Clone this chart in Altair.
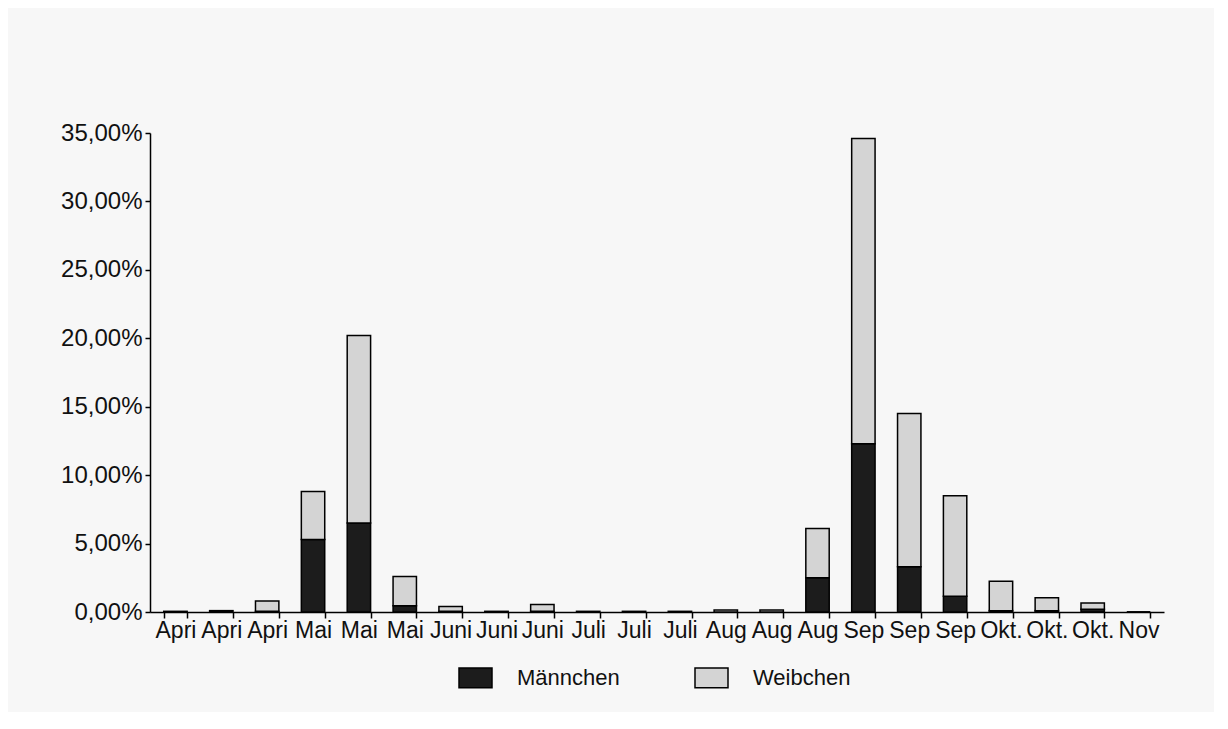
import altair as alt
import pandas as pd

labels = ["Apri", "Apri", "Apri", "Mai", "Mai", "Mai", "Juni", "Juni", "Juni",
          "Juli", "Juli", "Juli", "Aug", "Aug", "Aug", "Sep", "Sep", "Sep",
          "Okt.", "Okt.", "Okt.", "Nov"]
maennchen = [0.0, 0.0, 0.05, 5.3, 6.5, 0.45, 0.05, 0.0, 0.05, 0.0, 0.0, 0.0,
             0.0, 0.0, 2.5, 12.3, 3.3, 1.15, 0.1, 0.1, 0.2, 0.0]
weibchen = [0.05, 0.1, 0.75, 3.5, 13.7, 2.15, 0.35, 0.05, 0.5, 0.05, 0.05, 0.05,
            0.15, 0.15, 3.6, 22.3, 11.2, 7.35, 2.15, 0.95, 0.45, 0.0]
series = ["Männchen", "Weibchen"]
y_ticks = [0, 5, 10, 15, 20, 25, 30, 35]

rows = []
for i, lab in enumerate(labels):
    rows.append({"idx": i, "label": lab, "series": series[0], "order": 0, "value": maennchen[i]})
    rows.append({"idx": i, "label": lab, "series": series[1], "order": 1, "value": weibchen[i]})
df = pd.DataFrame(rows)

label_array = "[" + ",".join("'" + l + "'" for l in labels) + "]"
FONT = "Liberation Sans"

chart = alt.Chart(df).mark_bar(stroke="black", strokeWidth=1.5).encode(
    x=alt.X("idx:O", title=None,
            scale=alt.Scale(paddingInner=0.49, paddingOuter=0.3),
            axis=alt.Axis(labelExpr=label_array + "[datum.value]", labelAngle=0,
                          labelFont=FONT, labelFontSize=23, labelColor="#111",
                          labelPadding=1, tickBand="extent", tickSize=6,
                          tickColor="black", domainColor="black", domainWidth=1.5,
                          tickWidth=1.5, labelOverlap=False)),
    y=alt.Y("value:Q", title=None, stack="zero",
            scale=alt.Scale(domain=[0, 35], nice=False),
            axis=alt.Axis(values=y_ticks,
                          labelExpr="replace(format(datum.value, '.2f'), '.', ',') + '%'",
                          labelFont=FONT, labelFontSize=24, labelColor="#111",
                          grid=False, tickSize=5, tickColor="black",
                          domainColor="black", domainWidth=1.5, tickWidth=1.5,
                          labelPadding=3)),
    color=alt.Color("series:N",
                    scale=alt.Scale(domain=series, range=["#1c1c1c", "#d4d4d4"]),
                    legend=alt.Legend(title=None, orient="none", direction="horizontal",
                                      legendX=308, legendY=527,
                                      symbolType="M-1,-0.6H1V0.6H-1Z", symbolSize=1089,
                                      symbolStrokeColor="black", symbolStrokeWidth=1.5,
                                      labelFont=FONT, labelFontSize=22, labelColor="#111",
                                      labelOffset=24, columnPadding=72)),
    order=alt.Order("order:Q"),
).properties(
    width=1014, height=479,
    background="#f7f7f7",
    autosize=alt.AutoSizeParams(type="none"),
    padding={"left": 142, "top": 125, "right": 50, "bottom": 100},
).configure_view(stroke=None)

chart.save("out.html", embed_options={"renderer": "svg", "actions": False})
